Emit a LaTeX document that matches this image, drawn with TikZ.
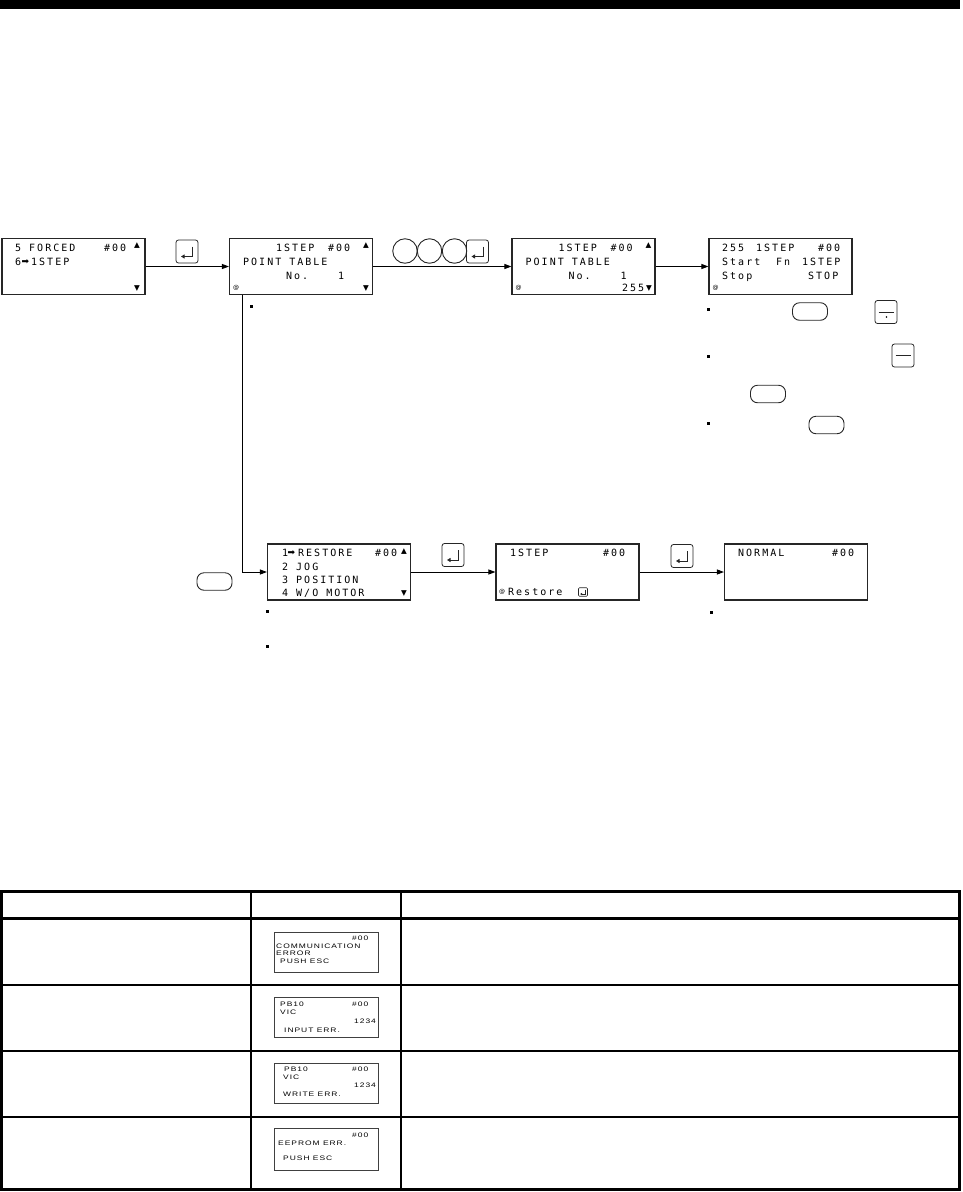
\documentclass[tikz,border=0pt]{standalone}
\usepackage{fontspec}
\usepackage{tikz}
\usetikzlibrary{arrows.meta,positioning}
\newfontfamily\lcdfont{DejaVu Sans Mono}[LetterSpace=20]
\newfontfamily\minifont{Liberation Sans}[FakeStretch=1.3, LetterSpace=15]
\newfontfamily\symfont{DejaVu Sans}

\begin{document}
\begin{tikzpicture}[
  x=1pt, y=-1pt,
  >={Triangle[length=7pt,width=5pt]},
  lcd/.style={draw=black!85, line width=1.1pt, minimum width=143pt, minimum height=56pt, inner sep=0pt},
  minilcd/.style={draw=black!75, line width=0.8pt, minimum width=104pt, minimum height=40pt, inner sep=0pt},
  txt/.style={anchor=west, inner sep=0pt, text height=7pt, text depth=0pt, font={\lcdfont\fontsize{10}{10}\selectfont\spaceskip=8pt\relax}},
  minitxt/.style={anchor=west, inner sep=0pt, text height=4.6pt, text depth=0pt, font={\minifont\fontsize{6.5}{6.5}\selectfont}},
  sym/.style={inner sep=0pt, font=\symfont\fontsize{7.5}{7.5}\selectfont},
  arrsym/.style={inner sep=0pt, font=\symfont\fontsize{9}{9}\selectfont},
  atsym/.style={inner sep=0pt, font=\symfont\fontsize{6}{6}\selectfont},
  arr/.style={->, line width=0.9pt},
  key/.style={draw=black!85, line width=0.8pt, inner sep=0pt},
  enterkey/.style={key, rounded corners=2.5pt, minimum width=22pt, minimum height=23pt,
    path picture={\coordinate (kc) at (path picture bounding box.center);
      \draw[sharp corners, line width=0.9pt, -{Triangle[length=3.5pt,width=4pt]}]
        ([shift={(5.5,-5)}]kc) -- ([shift={(5.5,5)}]kc) -- ([shift={(-6,5)}]kc);}},
  smallenter/.style={key, line width=0.6pt, rounded corners=1pt, minimum width=9pt, minimum height=8.5pt,
    path picture={\coordinate (kc) at (path picture bounding box.center);
      \draw[sharp corners, line width=0.6pt, -{Triangle[length=1.8pt,width=2.2pt]}]
        ([shift={(2,-2.5)}]kc) -- ([shift={(2,2)}]kc) -- ([shift={(-2.8,2)}]kc);}},
  roundkey/.style={key, line width=0.9pt, circle, minimum size=24.5pt},
  ovalkey/.style={key, line width=0.9pt, rounded corners=7pt, minimum width=35pt, minimum height=17.5pt},
  dashkey/.style={key, rounded corners=2.5pt, minimum width=22pt, minimum height=23pt,
    path picture={\coordinate (kc) at (path picture bounding box.center);
      \draw[line width=0.8pt] ([shift={(-7.5,0)}]kc) -- ([shift={(7.5,0)}]kc);}},
  minuskey/.style={key, rounded corners=2.5pt, minimum width=22pt, minimum height=23pt,
    path picture={\coordinate (kc) at (path picture bounding box.center);
      \draw[line width=0.8pt] ([shift={(-7.5,0)}]kc) -- ([shift={(7.5,0)}]kc);
      \fill ([shift={(0.5,5)}]kc) circle (0.8);}}
]
\useasboundingbox (0,0) rectangle (962,1192);
\fill (0,0) rectangle (960,9);

% screens of the first row
\node[lcd] (forced) at (73.5,266.5) {};
\node[lcd] (ptable) at (301,266.5) {};
\node[lcd] (ptnum) at (583.5,266.5) {};
\node[lcd] (stepop) at (780.5,266.5) {};

\node[txt] (forcedA) at (15,248) {5 FORCED};
\node[txt] (forcedB) at (104,248) {\#00};
\node[sym] (forcedUp) at (137,246) {▲};
\node[txt] (forcedC) at (15,262) {6};
\node[arrsym] (forcedArr) at (25.5,262) {➡};
\node[txt] (forcedD) at (31,262) {1STEP};
\node[sym] (forcedDn) at (137,288.5) {▼};

\node[txt] (ptableA) at (276,247.5) {1STEP};
\node[txt] (ptableB) at (328,247.5) {\#00};
\node[sym] (ptableUp) at (366,245.5) {▲};
\node[txt] (ptableC) at (243,262) {POINT TABLE};
\node[txt] (ptableD) at (286,276) {No.};
\node[txt] (ptableE) at (338,276) {1};
\node[atsym] (ptableAt) at (236,288) {@};
\node[sym] (ptableDn) at (366,288.5) {▼};

\node[txt] (ptnumA) at (558.5,247.5) {1STEP};
\node[txt] (ptnumB) at (610.5,247.5) {\#00};
\node[sym] (ptnumUp) at (648.5,245.5) {▲};
\node[txt] (ptnumC) at (525.5,262) {POINT TABLE};
\node[txt] (ptnumD) at (568.5,276) {No.};
\node[txt] (ptnumE) at (620.5,276) {1};
\node[atsym] (ptnumAt) at (518.5,288) {@};
\node[txt] (ptnumF) at (622,288) {255};
\node[sym] (ptnumDn) at (649,288.5) {▼};

\node[txt] (stepopA) at (722,248) {255};
\node[txt] (stepopB) at (756,248) {1STEP};
\node[txt] (stepopC) at (818,248) {\#00};
\node[txt] (stepopD) at (722,262) {Start};
\node[txt] (stepopE) at (776,262) {Fn};
\node[txt] (stepopF) at (802,262) {1STEP};
\node[txt] (stepopG) at (722,275.5) {Stop};
\node[txt] (stepopH) at (808,275.5) {STOP};
\node[atsym] (stepopAt) at (715.5,288) {@};

% keys of the first row
\node[enterkey] (ent1) at (187,251.5) {};
\node[roundkey] (num1) at (405,251) {};
\node[roundkey] (num2) at (429.5,251) {};
\node[roundkey] (num3) at (454.5,251) {};
\node[enterkey] (ent2) at (477.5,251.5) {};
\node[ovalkey] (mode1) at (810,311.5) {};
\node[minuskey] (minus1) at (886,312) {};
\node[dashkey] (dash1) at (903,355.5) {};
\node[ovalkey] (mode2) at (768,394) {};
\node[ovalkey] (mode3) at (826.5,425) {};

\draw[arr] (forced) -- (ptable);
\draw[arr] (ptable) -- (ptnum);
\draw[arr] (ptnum) -- (stepop);

% screens of the second row
\node[lcd] (restmenu) at (339,572) {};
\node[lcd] (restore) at (567.5,572) {};
\node[lcd] (normal) at (796,572) {};

\node[txt] (restmenuA) at (282,553) {1};
\node[arrsym] (restmenuArr) at (291.5,553) {➡};
\node[txt] (restmenuB) at (298,553) {RESTORE};
\node[txt] (restmenuC) at (375,553) {\#00};
\node[sym] (restmenuUp) at (404,551.5) {▲};
\node[txt] (restmenuD) at (282,567) {2 JOG};
\node[txt] (restmenuE) at (282,580) {3 POSITION};
\node[txt] (restmenuF) at (282,593) {4 W/O MOTOR};
\node[sym] (restmenuDn) at (404,593.5) {▼};

\node[txt] (restoreA) at (510,553) {1STEP};
\node[txt] (restoreB) at (603,553) {\#00};
\node[atsym] (restoreAt) at (502,592) {@};
\node[txt] (restoreC) at (508,592) {Restore};
\node[smallenter] (ent5) at (583,592) {};

\node[txt] (normalA) at (738,553) {NORMAL};
\node[txt] (normalB) at (832,553) {\#00};

\node[ovalkey] (mode4) at (214.5,581.5) {};
\node[enterkey] (ent3) at (453,555) {};
\node[enterkey] (ent4) at (682,556) {};

\draw[arr] ([xshift=13pt]ptable.south west) |- (restmenu);
\draw[arr] (restmenu) -- (restore);
\draw[arr] (restore) -- (normal);

% bullets
\fill (250,305) rectangle ++(2.5,2.5);
\fill (707,308) rectangle ++(2.5,2.5);
\fill (707,355) rectangle ++(2.5,2.5);
\fill (707,422) rectangle ++(2.5,2.5);
\fill (266,610) rectangle ++(2.5,2.5);
\fill (266,645) rectangle ++(2.5,2.5);
\fill (710,611) rectangle ++(2.5,2.5);

% table
\draw[line width=3pt] (1.5,891.5) rectangle (959.5,1189.5);
\draw[line width=3pt] (0,918.5) -- (961,918.5);
\draw[line width=1.3pt] (0,985) -- (961,985);
\draw[line width=1.3pt] (0,1051) -- (961,1051);
\draw[line width=2.5pt] (0,1117) -- (961,1117);
\draw[line width=1.3pt] (251,891) -- (251,1190);
\draw[line width=2.5pt] (401,891) -- (401,1190);

\node[minilcd] (commerr) at (326,952) {};
\node[minitxt] (commerrA) at (352,938) {\#00};
\node[minitxt] (commerrB) at (276,946) {COMMUNICATION};
\node[minitxt] (commerrC) at (276,953.5) {ERROR};
\node[minitxt] (commerrD) at (280,961) {PUSH ESC};

\node[minilcd] (inputerr) at (326,1017) {};
\node[minitxt] (inputerrA) at (280,1004) {PB10};
\node[minitxt] (inputerrB) at (352,1004) {\#00};
\node[minitxt] (inputerrC) at (280,1012.5) {VIC};
\node[minitxt] (inputerrD) at (354,1021) {1234};
\node[minitxt] (inputerrE) at (284,1030) {INPUT ERR.};

\node[minilcd] (writeerr) at (326,1083) {};
\node[minitxt] (writeerrA) at (284,1069) {PB10};
\node[minitxt] (writeerrB) at (352,1069) {\#00};
\node[minitxt] (writeerrC) at (283,1077) {VIC};
\node[minitxt] (writeerrD) at (354,1085.5) {1234};
\node[minitxt] (writeerrE) at (283,1094) {WRITE ERR.};

\node[minilcd, minimum height=42pt] (eepromerr) at (326,1149) {};
\node[minitxt] (eepromerrA) at (352,1135) {\#00};
\node[minitxt] (eepromerrB) at (278,1143) {EEPROM ERR.};
\node[minitxt] (eepromerrC) at (283,1158) {PUSH ESC};
\end{tikzpicture}
\end{document}
